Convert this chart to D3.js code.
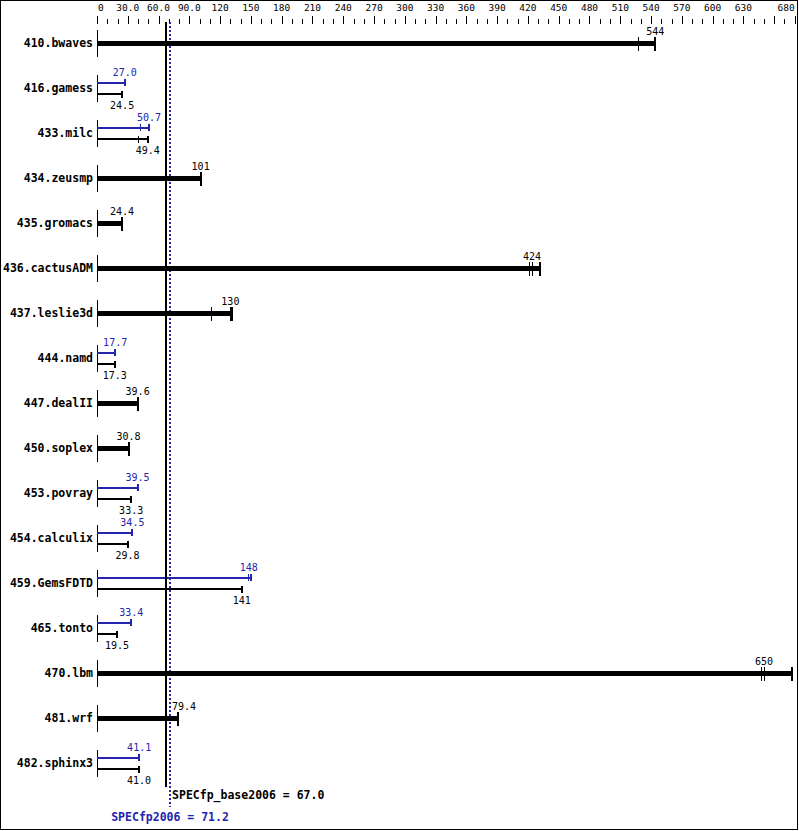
<!DOCTYPE html>
<html>
<head>
<meta charset="utf-8">
<script src="https://cdn.jsdelivr.net/npm/d3@7"></script>
<style>
  body { margin: 0; background: #fff; }
  svg { display: block; }
  text { font-family: "DejaVu Sans Mono", monospace; }
  line, rect { shape-rendering: crispEdges; }
</style>
</head>
<body>
<svg width="799" height="831"></svg>
<script>
var benchmarks = ["410.bwaves", "416.gamess", "433.milc", "434.zeusmp", "435.gromacs",
  "436.cactusADM", "437.leslie3d", "444.namd", "447.dealII", "450.soplex", "453.povray",
  "454.calculix", "459.GemsFDTD", "465.tonto", "470.lbm", "481.wrf", "482.sphinx3"];

// base ratio (median) and the individual runs
var baseValues = [544, 24.5, 49.4, 101, 24.4, 424, 130, 17.3, 39.6, 30.8, 33.3, 29.8, 141, 19.5, 650, 79.4, 41.0];
var baseRuns = [[528, 544], [24.5], [40.0, 49.4], [101], [24.4], [421.5, 424.5, 432], [111.5, 130, 131.5],
  [17.3], [39.6], [30.8], [33.3], [29.8], [141], [19.5], [648, 650.5, 677], [79.4], [41.0]];

// peak ratio, null where only the base bar is drawn
var peakValues = [null, 27.0, 50.7, null, null, null, null, 17.7, null, null, 39.5, 34.5, 148, 33.4, null, null, 41.1];
var peakRuns = [null, [27.0], [42.0, 50.7], null, null, null, null, [17.7], null, null, [39.5], [34.5],
  [148, 150.5], [33.4], null, null, [41.1]];

var baseScore = 67.0;
var peakScore = 71.2;

var tickLabels = ["0", "30.0", "60.0", "90.0", "120", "150", "180", "210", "240", "270", "300", "330",
  "360", "390", "420", "450", "480", "510", "540", "570", "600", "630", "680"];
var tickValues = [0, 30, 60, 90, 120, 150, 180, 210, 240, 270, 300, 330,
  360, 390, 420, 450, 480, 510, 540, 570, 600, 630, 680];

var blue = "#2424ad";
var svg = d3.select("svg");

var x = d3.scaleLinear().domain([0, 680]).range([97, 794.7]);
var y = d3.scalePoint().domain(benchmarks).range([43, 763]);

// frame
svg.append("rect")
  .attr("x", 0.5).attr("y", 0.5)
  .attr("width", 797).attr("height", 829)
  .attr("fill", "none").attr("stroke", "#000");

// top scale
var minor = d3.range(0, 681, 10);
svg.append("g").selectAll("line")
  .data(minor)
  .enter()
  .append("line")
  .attr("x1", function(d) { return Math.round(x(d)) + 0.5; })
  .attr("x2", function(d) { return Math.round(x(d)) + 0.5; })
  .attr("y1", function(d) { return d % 30 == 0 || d == 680 ? 16 : 19; })
  .attr("y2", 24)
  .attr("stroke", "#000");

svg.append("g").selectAll("text")
  .data(tickValues)
  .enter()
  .append("text")
  .attr("x", function(d) { return d == 0 ? x(d) + 1 : x(d); })
  .attr("y", 11)
  .attr("text-anchor", function(d) { return d == 0 ? "start" : (d == 680 ? "end" : "middle"); })
  .attr("font-size", "9.5px")
  .text(function(d, i) { return tickLabels[i]; });

// peak reference line (dotted, behind bars)
svg.append("line")
  .attr("x1", Math.round(x(peakScore))).attr("x2", Math.round(x(peakScore)))
  .attr("y1", 22).attr("y2", 807)
  .attr("stroke", blue).attr("stroke-width", 2)
  .attr("stroke-dasharray", "2,2");

var rows = svg.append("g").selectAll("g")
  .data(benchmarks)
  .enter()
  .append("g")
  .attr("transform", function(d) { return "translate(0," + y(d) + ")"; });

rows.append("text")
  .attr("x", 93)
  .attr("y", 4)
  .attr("text-anchor", "end")
  .attr("font-size", "11.5px")
  .attr("font-weight", "bold")
  .text(function(d) { return d; });

rows.append("line")
  .attr("x1", x(0) + 0.5).attr("x2", x(0) + 0.5)
  .attr("y1", -13).attr("y2", 14)
  .attr("stroke", "#000");

var lineLeft = x(peakScore) + 2;
function labelX(v, w) {
  var cx = x(v);
  if (cx - w / 2 < lineLeft && cx + w / 2 > x(baseScore) - 1) return lineLeft + w / 2;
  return cx;
}

rows.each(function(name, i) {
  var g = d3.select(this);
  var runs = baseRuns[i];
  var max = d3.max(runs);
  if (peakValues[i] == null) {
    // single thick base bar
    g.append("line")
      .attr("x1", x(0)).attr("x2", x(max))
      .attr("y1", 0).attr("y2", 0)
      .attr("stroke", "#000").attr("stroke-width", 5);
    g.selectAll(".run").data(runs).enter().append("line")
      .attr("x1", function(d) { return x(d); })
      .attr("x2", function(d) { return x(d); })
      .attr("y1", -6).attr("y2", 8)
      .attr("stroke", "#000")
      .attr("stroke-width", function(d) { return d == max ? 2 : 1; });
    var s = String(baseValues[i]);
    g.append("text")
      .attr("x", labelX(baseValues[i], s.length * 6))
      .attr("y", -8)
      .attr("text-anchor", "middle")
      .attr("font-size", "10px")
      .text(s);
  } else {
    var pRuns = peakRuns[i];
    var pMax = d3.max(pRuns);
    g.append("line")
      .attr("x1", x(0)).attr("x2", x(pMax))
      .attr("y1", -5.5).attr("y2", -5.5)
      .attr("stroke", blue).attr("stroke-width", 2);
    g.selectAll(".prun").data(pRuns).enter().append("line")
      .attr("x1", function(d) { return x(d); })
      .attr("x2", function(d) { return x(d); })
      .attr("y1", -9).attr("y2", -2)
      .attr("stroke", blue)
      .attr("stroke-width", function(d) { return d == pMax ? 2 : 1; });
    g.append("text")
      .attr("x", x(peakValues[i]))
      .attr("y", -12)
      .attr("text-anchor", "middle")
      .attr("font-size", "10px")
      .attr("fill", blue)
      .text(peakValues[i].toFixed(peakValues[i] >= 100 ? 0 : 1));

    g.append("line")
      .attr("x1", x(0)).attr("x2", x(max))
      .attr("y1", 6).attr("y2", 6)
      .attr("stroke", "#000").attr("stroke-width", 2);
    g.selectAll(".brun").data(runs).enter().append("line")
      .attr("x1", function(d) { return x(d); })
      .attr("x2", function(d) { return x(d); })
      .attr("y1", 2.5).attr("y2", 9.5)
      .attr("stroke", "#000")
      .attr("stroke-width", function(d) { return d == max ? 2 : 1; });
    g.append("text")
      .attr("x", x(baseValues[i]))
      .attr("y", 21)
      .attr("text-anchor", "middle")
      .attr("font-size", "10px")
      .text(baseValues[i].toFixed(baseValues[i] >= 100 ? 0 : 1));
  }
});

// base reference line
svg.append("line")
  .attr("x1", x(baseScore)).attr("x2", x(baseScore))
  .attr("y1", 22).attr("y2", 787)
  .attr("stroke", "#000").attr("stroke-width", 2);

svg.append("text")
  .attr("x", x(peakScore) + 2)
  .attr("y", 799)
  .attr("font-size", "11.5px")
  .attr("font-weight", "bold")
  .text("SPECfp_base2006 = " + baseScore.toFixed(1));

svg.append("text")
  .attr("x", x(peakScore))
  .attr("y", 821)
  .attr("text-anchor", "middle")
  .attr("font-size", "11.5px")
  .attr("font-weight", "bold")
  .attr("fill", blue)
  .text("SPECfp2006 = " + peakScore.toFixed(1));
</script>
</body>
</html>
